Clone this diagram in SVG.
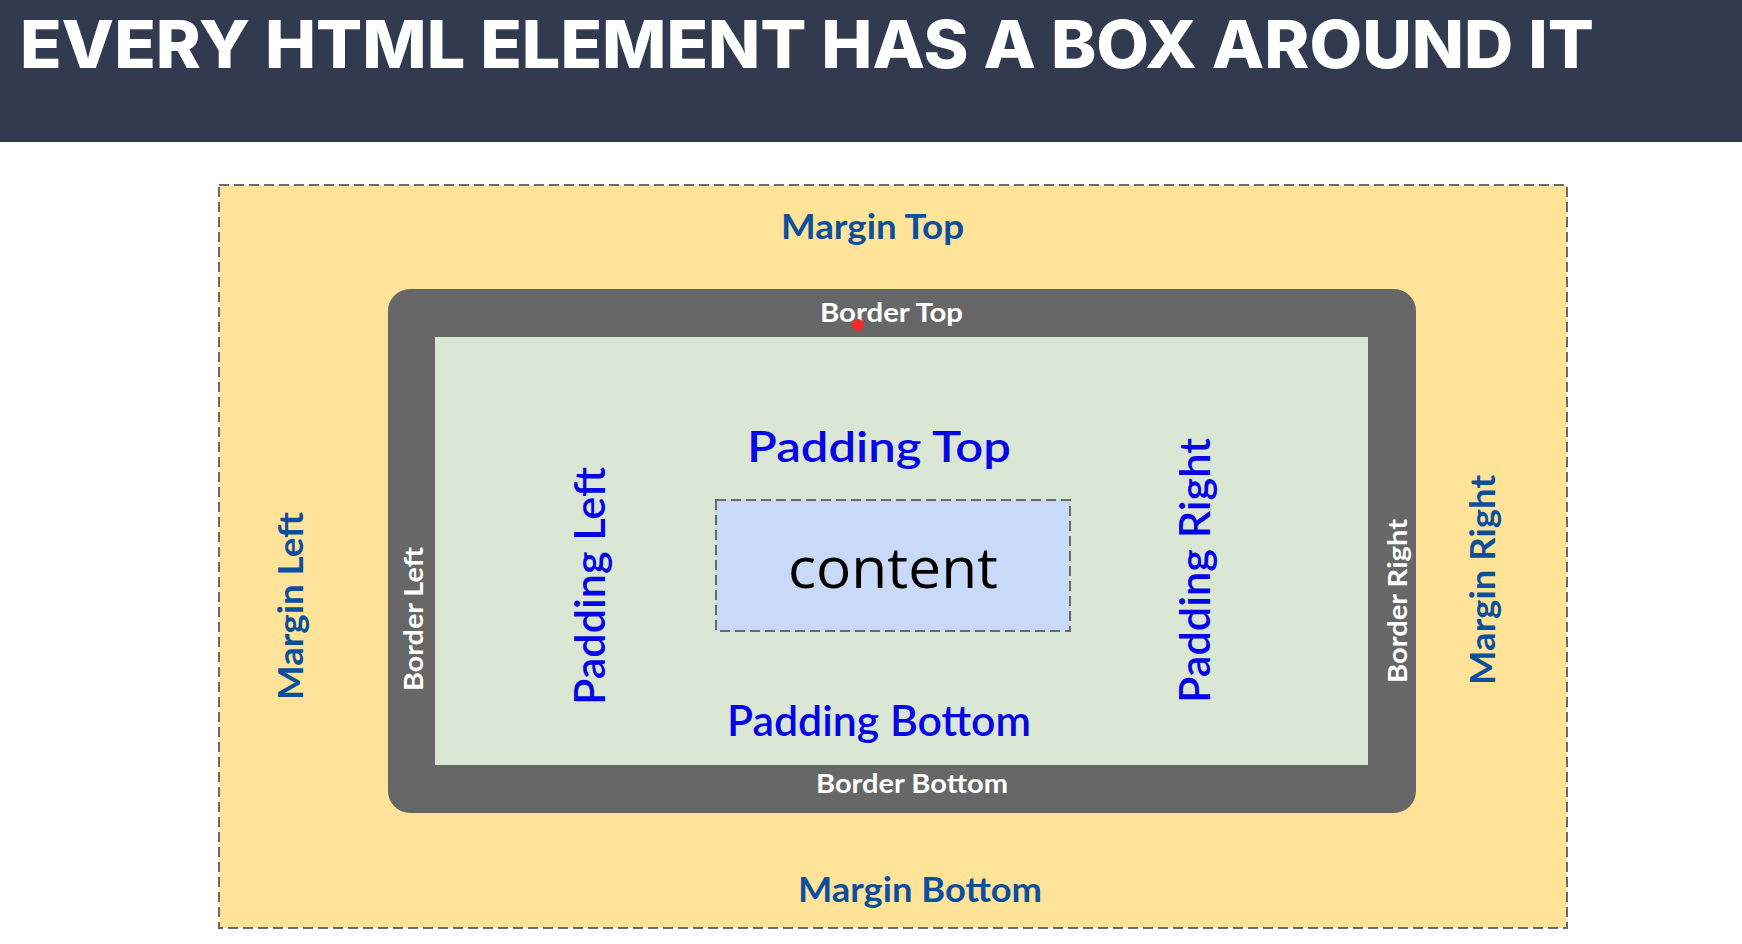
<svg xmlns="http://www.w3.org/2000/svg" width="1742" height="944" viewBox="0 0 1742 944">
<style>
.lbl{font-family:Lato,"Open Sans","Liberation Sans",sans-serif}
.mrg{fill:#0b4f9d;font-weight:700;font-size:34px}
.pad{fill:#0505e6;font-weight:600;font-size:42px}
.brd{fill:#ffffff;font-weight:700;font-size:26px}
.dash{stroke:#6a6a6a;stroke-width:2;stroke-dasharray:10 5}
</style>
<rect x="0" y="0" width="1742" height="944" fill="#ffffff"/>
<g id="header">
<rect x="0" y="0" width="1742" height="142" fill="#323a4f"/>
<text x="20" y="68" font-family="Inter, Liberation Sans, Arial, sans-serif" font-weight="800" font-size="66" fill="#ffffff" textLength="1574" lengthAdjust="spacingAndGlyphs">EVERY HTML ELEMENT HAS A BOX AROUND IT</text>
</g>
<g id="margin">
<rect x="219" y="185" width="1348" height="743" fill="#ffe399" class="dash"/>
<text class="lbl mrg" x="781" y="239" textLength="183" lengthAdjust="spacingAndGlyphs">Margin Top</text>
<text class="lbl mrg" x="798" y="902" textLength="244" lengthAdjust="spacingAndGlyphs">Margin Bottom</text>
<text class="lbl mrg" transform="translate(303,700) rotate(-90)" textLength="188" lengthAdjust="spacingAndGlyphs">Margin Left</text>
<text class="lbl mrg" transform="translate(1495,685) rotate(-90)" textLength="210" lengthAdjust="spacingAndGlyphs">Margin Right</text>
</g>
<g id="border">
<rect x="388" y="289" width="1028" height="524" rx="22" ry="22" fill="#676767"/>
</g>
<g id="padding">
<rect x="435" y="337" width="933" height="428" fill="#d9e7d4"/>
<text class="lbl pad" x="747" y="462" textLength="264" lengthAdjust="spacingAndGlyphs">Padding Top</text>
<text class="lbl pad" x="727" y="736" textLength="304" lengthAdjust="spacingAndGlyphs">Padding Bottom</text>
<text class="lbl pad" transform="translate(605,705) rotate(-90)" textLength="238" lengthAdjust="spacingAndGlyphs">Padding Left</text>
<text class="lbl pad" transform="translate(1210,703) rotate(-90)" textLength="265" lengthAdjust="spacingAndGlyphs">Padding Right</text>
</g>
<g id="border-labels">
<text class="lbl brd" x="820" y="322" textLength="143" lengthAdjust="spacingAndGlyphs">Border Top</text>
<text class="lbl brd" x="816" y="793" textLength="192" lengthAdjust="spacingAndGlyphs">Border Bottom</text>
<text class="lbl brd" transform="translate(423,691) rotate(-90)" textLength="144" lengthAdjust="spacingAndGlyphs">Border Left</text>
<text class="lbl brd" transform="translate(1407,683) rotate(-90)" textLength="164" lengthAdjust="spacingAndGlyphs">Border Right</text>
</g>
<g id="content">
<rect x="716" y="500" width="354" height="131" fill="#c9daf8" class="dash"/>
<text x="788" y="588" font-family="Open Sans, Noto Sans, sans-serif" font-size="56" fill="#000000" textLength="210" lengthAdjust="spacingAndGlyphs">content</text>
</g>
<g id="connectors"></g>
<circle cx="858" cy="325" r="6" fill="#f02a2a"/>
</svg>
